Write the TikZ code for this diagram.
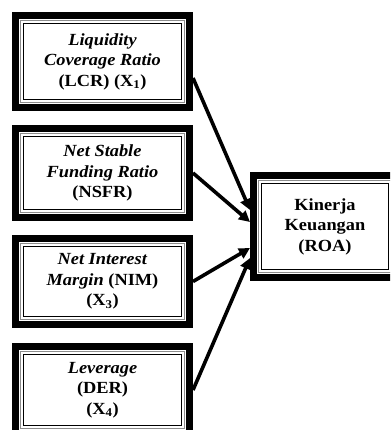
\documentclass[tikz,border=0pt]{standalone}
\usepackage{fontspec}
\setmainfont[FakeStretch=1.08]{Liberation Serif}
\usetikzlibrary{arrows.meta,calc}
\tikzset{
  dbox/.style={draw=black, line width=7pt, fill=white, inner sep=0pt, align=center,
    font=\fontsize{17}{20.5}\selectfont\bfseries,
    path picture={
      \draw[line width=1.3pt, black!45]
        ($(path picture bounding box.south west)+(5.2,-5.2)$) rectangle
        ($(path picture bounding box.north east)+(-5.2,5.2)$);
      \draw[line width=1pt, black]
        ($(path picture bounding box.south west)+(7.6,-7.6)$) rectangle
        ($(path picture bounding box.north east)+(-7.6,7.6)$);
    }},
  conn/.style={line width=3.6pt, -{Triangle[length=11pt,width=11pt]}}
}
\begin{document}
\begin{tikzpicture}[x=1pt,y=-1pt]
\useasboundingbox (0,0) rectangle (390,430);
\clip (0,0) rectangle (390,430);
\fill[white] (0,0) rectangle (390,430);
\node[dbox, minimum width=174pt, minimum height=92pt] (b1) at (102.5,61.5)
  {\textit{Liquidity}\\\textit{Coverage Ratio}\\(LCR) (X\textsubscript{1})};
\node[dbox, minimum width=174pt, minimum height=89pt] (b2) at (102.5,173)
  {\textit{Net Stable}\\\textit{Funding Ratio}\\(NSFR)};
\node[dbox, minimum width=174pt, minimum height=86pt] (b3) at (102.5,281.5)
  {\textit{Net Interest}\\\textit{Margin} (NIM)\\(X\textsubscript{3})};
\node[dbox, minimum width=174pt, minimum height=87pt] (b4) at (102.5,390)
  {\textit{Leverage}\\(DER)\\(X\textsubscript{4})};
\node[dbox, minimum width=143pt, minimum height=102pt] (r) at (325,226.5)
  {\raisebox{6pt}{\begin{tabular}{@{}c@{}}Kinerja\\Keuangan\\(ROA)\end{tabular}}};
\draw[conn] ([yshift=-16.5pt]b1.east) -- ([yshift=16.5pt]r.west);
\draw[conn] (b2.east) -- ([yshift=4.5pt]r.west);
\draw[conn] (b3.east) -- ([yshift=-21.5pt]r.west);
\draw[conn] (b4.east) -- ([yshift=-31.5pt]r.west);
\end{tikzpicture}
\end{document}
